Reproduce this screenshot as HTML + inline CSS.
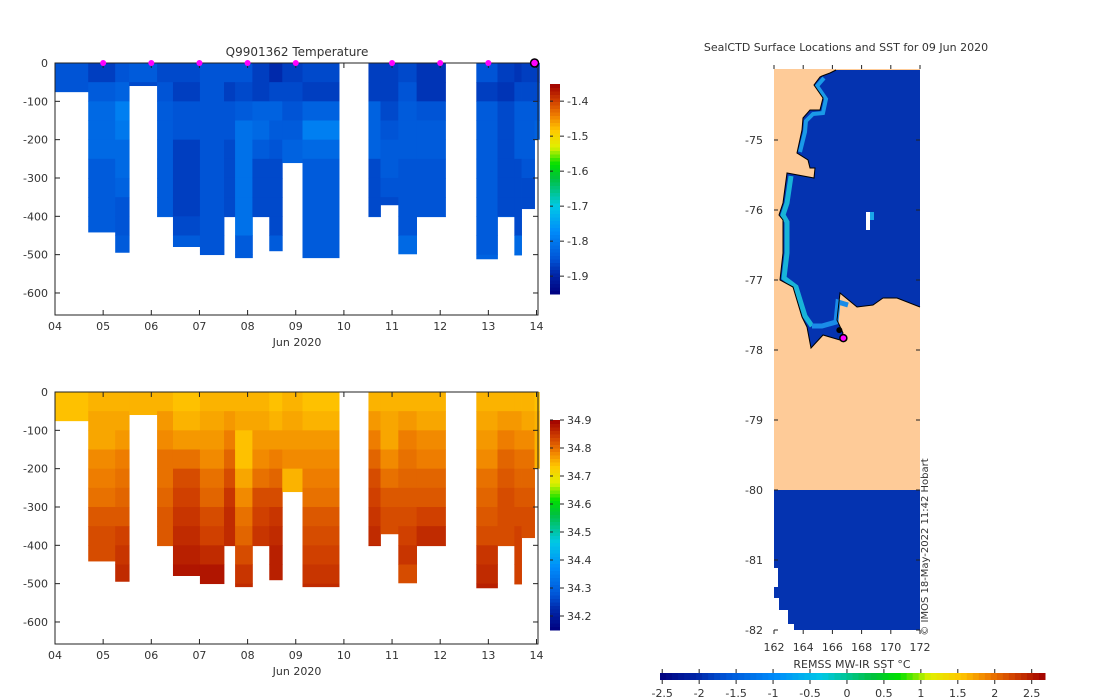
<!DOCTYPE html>
<html><head><meta charset="utf-8"><style>
body{margin:0;background:#fff;}
svg{display:block;font-family:"DejaVu Sans","Liberation Sans",sans-serif;font-size:11px;fill:#333;}
</style></head><body>
<svg id="fig" width="1100" height="700" viewBox="0 0 1100 700" xmlns="http://www.w3.org/2000/svg">
<rect width="1100" height="700" fill="#fff"/>
<g id="top"></g>
<g id="bot"></g>
<g id="map"></g>
</svg>
<script>
// ---- data ----
const colStart=[0,0.69,1.25,1.54,2.12,2.45,3.01,3.51,3.74,4.10,4.45,4.72,5.14,6.51,6.76,7.13,7.51,8.75,9.19,9.54,9.69,9.96];
const colEnd=[0.69,1.25,1.54,2.12,2.45,3.01,3.51,3.74,4.10,4.45,4.72,5.14,5.90,6.76,7.13,7.51,8.11,9.19,9.54,9.69,9.96,10.06];
const colDepth=[75,441,494,59,401,479,500,401,508,401,490,260,508,401,370,498,401,511,401,501,380,199];
const binSize=50;
const tempVals=[
[-1.85,-1.85],
[-1.87,-1.84,-1.82,-1.82,-1.82,-1.84,-1.84,-1.84,-1.84],
[-1.85,-1.83,-1.79,-1.80,-1.82,-1.82,-1.83,-1.85,-1.85,-1.84],
[-1.84,-1.86],
[-1.86,-1.85,-1.84,-1.84,-1.84,-1.84,-1.84,-1.84,-1.83],
[-1.86,-1.87,-1.85,-1.85,-1.87,-1.87,-1.87,-1.87,-1.86,-1.84],
[-1.85,-1.85,-1.85,-1.85,-1.85,-1.85,-1.85,-1.85,-1.85,-1.85],
[-1.85,-1.87,-1.85,-1.85,-1.86,-1.86,-1.86,-1.86,-1.86],
[-1.85,-1.86,-1.84,-1.81,-1.81,-1.81,-1.81,-1.81,-1.81,-1.84,-1.84],
[-1.87,-1.87,-1.83,-1.82,-1.84,-1.86,-1.86,-1.86,-1.86],
[-1.89,-1.86,-1.83,-1.84,-1.85,-1.86,-1.86,-1.86,-1.86,-1.84],
[-1.87,-1.86,-1.85,-1.84,-1.83,-1.83],
[-1.86,-1.87,-1.83,-1.79,-1.82,-1.84,-1.84,-1.84,-1.84,-1.84,-1.84],
[-1.87,-1.87,-1.83,-1.83,-1.83,-1.86,-1.86,-1.86,-1.85],
[-1.87,-1.87,-1.86,-1.85,-1.84,-1.84,-1.85,-1.86],
[-1.86,-1.85,-1.84,-1.84,-1.84,-1.85,-1.85,-1.85,-1.85,-1.82],
[-1.88,-1.88,-1.85,-1.84,-1.84,-1.85,-1.85,-1.85,-1.85],
[-1.85,-1.87,-1.84,-1.84,-1.84,-1.84,-1.84,-1.84,-1.84,-1.84,-1.83],
[-1.87,-1.88,-1.86,-1.86,-1.86,-1.86,-1.86,-1.86,-1.84],
[-1.88,-1.86,-1.84,-1.84,-1.84,-1.86,-1.86,-1.86,-1.86,-1.82,-1.82],
[-1.87,-1.86,-1.84,-1.84,-1.84,-1.85,-1.86,-1.86],
[-1.87,-1.86,-1.84,-1.83]];
const salVals=[
[34.74,34.74],
[34.75,34.76,34.76,34.78,34.79,34.80,34.82,34.83,34.83],
[34.75,34.76,34.77,34.79,34.80,34.81,34.82,34.84,34.85,34.86],
[34.75,34.75],
[34.75,34.77,34.78,34.80,34.80,34.81,34.82,34.82,34.82],
[34.74,34.75,34.77,34.80,34.83,34.84,34.85,34.86,34.87,34.88],
[34.75,34.76,34.77,34.78,34.80,34.81,34.83,34.84,34.86,34.88],
[34.75,34.77,34.79,34.81,34.83,34.85,34.86,34.86,34.86],
[34.75,34.76,34.74,34.74,34.76,34.78,34.80,34.81,34.83,34.85,34.86],
[34.75,34.76,34.77,34.78,34.80,34.83,34.84,34.85,34.85],
[34.74,34.75,34.77,34.79,34.81,34.83,34.85,34.86,34.87,34.87],
[34.75,34.76,34.77,34.78,34.75,34.75],
[34.74,34.75,34.77,34.78,34.79,34.80,34.82,34.83,34.84,34.85,34.86],
[34.75,34.77,34.79,34.81,34.83,34.84,34.85,34.86,34.87],
[34.75,34.76,34.76,34.78,34.80,34.82,34.83,34.83],
[34.75,34.77,34.79,34.80,34.81,34.82,34.83,34.84,34.85,34.83],
[34.75,34.76,34.78,34.79,34.81,34.82,34.84,34.86,34.86],
[34.75,34.76,34.77,34.78,34.80,34.81,34.82,34.83,34.85,34.86,34.87],
[34.75,34.77,34.79,34.81,34.82,34.83,34.83,34.83,34.83],
[34.75,34.77,34.78,34.80,34.81,34.82,34.83,34.84,34.84,34.84,34.84],
[34.75,34.76,34.78,34.80,34.81,34.82,34.83,34.83],
[34.74,34.75,34.75,34.75]];
const markerDays=[1,2,3,4,5,7,8,9];
const lastMarkerDay=9.96;
const xTickLabels=["04","05","06","07","08","09","10","11","12","13","14"];
const yTickLabels=[0,-100,-200,-300,-400,-500,-600];
const tempCbTicks=[-1.4,-1.5,-1.6,-1.7,-1.8,-1.9];
const salCbTicks=[34.9,34.8,34.7,34.6,34.5,34.4,34.3,34.2];
const lonTicks=[162,164,166,168,170,172];
const latTicks=[-75,-76,-77,-78,-79,-80,-81,-82];
const sstTicks=[-2.5,-2,-1.5,-1,-0.5,0,0.5,1,1.5,2,2.5];
const ctdLon=[166.75], ctdLat=[-77.83];

const NS="http://www.w3.org/2000/svg";
function el(parent,tag,attrs,txt){const e=document.createElementNS(NS,tag);for(const k in attrs)e.setAttribute(k,attrs[k]);if(txt!==undefined)e.textContent=txt;parent.appendChild(e);return e;}
const stops=[[0,[0,0,127]],[0.1,[0,40,170]],[0.17,[0,85,215]],[0.3,[0,140,250]],[0.42,[0,200,230]],[0.55,[0,192,64]],[0.62,[0,224,0]],[0.7,[224,240,0]],[0.78,[255,200,0]],[0.85,[240,128,0]],[0.92,[208,64,0]],[1,[160,0,0]]];
function cmap(t){t=Math.max(0,Math.min(1,t));for(let i=1;i<stops.length;i++){if(t<=stops[i][0]){const a=stops[i-1],b=stops[i];const f=(t-a[0])/(b[0]-a[0]);const c=a[1].map((v,j)=>Math.round(v+(b[1][j]-v)*f));return `rgb(${c[0]},${c[1]},${c[2]})`;}}return 'rgb(160,0,0)';}

function panel(g,y0,vals,vmin,vmax,cbTop,cbBot,cbTicks,showTitle,name){
  const X=d=>55+d*48.15, Y=z=>y0+z*0.3833;
  const bottomY=y0+252;
  for(let c=0;c<colStart.length;c++){
    const v=vals[c];
    for(let i=0;i<v.length;i++){
      const z0=i*binSize, z1=Math.min((i+1)*binSize,colDepth[c]);
      if(z1<=z0)continue;
      const r=el(g,'rect',{x:X(colStart[c]),y:Y(z0),width:X(colEnd[c])-X(colStart[c])+0.4,height:Y(z1)-Y(z0)+0.4,fill:cmap((v[i]-vmin)/(vmax-vmin))});
      
      
    }
  }
  el(g,'rect',{x:55,y:y0,width:483,height:252,fill:'none',stroke:'#222','stroke-width':1,});
  xTickLabels.forEach((l,i)=>{const x=X(i);el(g,'line',{x1:x,x2:x,y1:bottomY,y2:bottomY-5,stroke:'#222'});el(g,'line',{x1:x,x2:x,y1:y0,y2:y0+5,stroke:'#222'});
    const t=el(g,'text',{x:x,y:bottomY+15,'text-anchor':'middle'},l);});
  yTickLabels.forEach(v=>{const y=Y(-v);el(g,'line',{x1:55,x2:60,y1:y,y2:y,stroke:'#222'});el(g,'line',{x1:538,x2:533,y1:y,y2:y,stroke:'#222'});
    const t=el(g,'text',{x:48,y:y+4,'text-anchor':'end'},v);});
  el(g,'text',{x:297,y:bottomY+31,'text-anchor':'middle',},'Jun 2020');
  const n=60;for(let i=0;i<n;i++){const t=i/n;el(g,'rect',{x:550,y:cbBot-(i+1)*(cbBot-cbTop)/n,width:10,height:(cbBot-cbTop)/n+0.5,fill:cmap(t+0.5/n)});}
  el(g,'rect',{x:550,y:cbTop,width:10,height:cbBot-cbTop,fill:'none',});
  cbTicks.forEach(v=>{const y=cbBot-(v-vmin)/(vmax-vmin)*(cbBot-cbTop);el(g,'line',{x1:560,x2:564,y1:y,y2:y,stroke:'#222'});el(g,'line',{x1:550,x2:553,y1:y,y2:y,stroke:'#222'});
    const t=el(g,'text',{x:567,y:y+4},v.toFixed(1));});
  if(showTitle){
    el(g,'text',{x:297,y:56,'text-anchor':'middle','font-size':'12',},'Q9901362  Temperature');
    markerDays.forEach(d=>{const m=el(g,'circle',{cx:X(d),cy:y0,r:3,fill:'#ff00ff'});});
    el(g,'circle',{cx:X(lastMarkerDay),cy:y0,r:4,fill:'#ff00ff',stroke:'#000','stroke-width':1.5,});
  }
}
panel(document.getElementById('top'),63,tempVals,-1.951,-1.351,84,294,tempCbTicks,true,'temperature');
panel(document.getElementById('bot'),392,salVals,34.15,34.9,420,630,salCbTicks,false,'salinity');

// ---- map ----
const mg=document.getElementById('map');
const LX=lon=>774+(lon-162)*14.6, LY=lat=>140+(-75-lat)*70;
el(mg,'text',{x:846,y:51,'text-anchor':'middle',},'SealCTD Surface Locations and SST for 09 Jun 2020');
el(mg,'rect',{x:774,y:69,width:146,height:561,fill:'#fecb98',});
const coast="836,70 830,73 822,76 820,77 814,85 823,98 820,110 810,110 803,118 802,130 797,153 808,160 810,168 815,168 814,178 787,173 783,203 779,215 783,220 783,253 780,280 793,287 802,317 807,327 811,348 823,335 840,340 843,333 837,320 840,293 857,307 873,305 883,298 897,298 920,307 920,70";
el(mg,'polygon',{points:coast,fill:'#0433b0',});
el(mg,'polyline',{points:"824,78 817,86 826,99 823,113 813,114 806,121 805,132 800,152",fill:'none',stroke:'#1a9ae8','stroke-width':4});
el(mg,'polyline',{points:"791,176 787,203 783,215 787,222 787,253 784,278 796,287 805,316 812,326",fill:'none',stroke:'#18b4d8','stroke-width':5});
el(mg,'polyline',{points:"812,326 822,326 836,322 838,302 848,305",fill:'none',stroke:'#1a8ce8','stroke-width':5});
el(mg,'polyline',{points:coast.replace(/ 920,70$/,''),fill:'none',stroke:'#000','stroke-width':1,});
el(mg,'rect',{x:866,y:212,width:4,height:18,fill:'#fff'});el(mg,'rect',{x:870,y:212,width:4,height:8,fill:'#1aa6e8'});
el(mg,'rect',{x:774,y:LY(-80),width:146,height:140,fill:'#0433b0',});
el(mg,'rect',{x:774,y:568,width:4,height:19,fill:'#fff'});
el(mg,'polygon',{points:"774,598 779,598 779,610 788,610 788,624 794,624 794,630 774,630",fill:'#fff'});
ctdLon.forEach((lo,i)=>{el(mg,'circle',{cx:LX(lo)-4,cy:LY(ctdLat[i])-8,r:3,fill:'#000'});const c=el(mg,'circle',{cx:LX(lo),cy:LY(ctdLat[i]),r:3.5,fill:'#ff00ff',stroke:'#000','stroke-width':1.5});});
latTicks.forEach(v=>{const y=LY(v);el(mg,'line',{x1:774,x2:778,y1:y,y2:y,stroke:'#222'});el(mg,'line',{x1:920,x2:916,y1:y,y2:y,stroke:'#222'});
  const t=el(mg,'text',{x:763,y:y+4,'text-anchor':'end'},v);});
lonTicks.forEach(v=>{const x=LX(v);el(mg,'line',{x1:x,x2:x,y1:630,y2:634,stroke:'#222'});el(mg,'line',{x1:x,x2:x,y1:65,y2:69,stroke:'#222'});
  const t=el(mg,'text',{x:x,y:651,'text-anchor':'middle'},v);});
el(mg,'text',{x:0,y:0,transform:'translate(928,547) rotate(-90)','text-anchor':'middle','font-size':'10',},'© IMOS 18-May-2022 11:42 Hobart');
el(mg,'text',{x:852,y:668,'text-anchor':'middle',},'REMSS MW-IR SST °C');
const sx0=660,sx1=1045,smin=-2.53,smax=2.68;
for(let i=0;i<64;i++){el(mg,'rect',{x:sx0+i*(sx1-sx0)/64,y:673,width:(sx1-sx0)/64+0.5,height:7,fill:cmap((i+0.5)/64)});}
el(mg,'rect',{x:sx0,y:673,width:sx1-sx0,height:7,fill:'none',});
sstTicks.forEach(v=>{const x=sx0+(v-smin)/(smax-smin)*(sx1-sx0);el(mg,'line',{x1:x,x2:x,y1:680,y2:684,stroke:'#222'});el(mg,'line',{x1:x,x2:x,y1:669,y2:673,stroke:'#222'});
  const t=el(mg,'text',{x:x,y:697,'text-anchor':'middle'},String(v));});
</script>
</body></html>
